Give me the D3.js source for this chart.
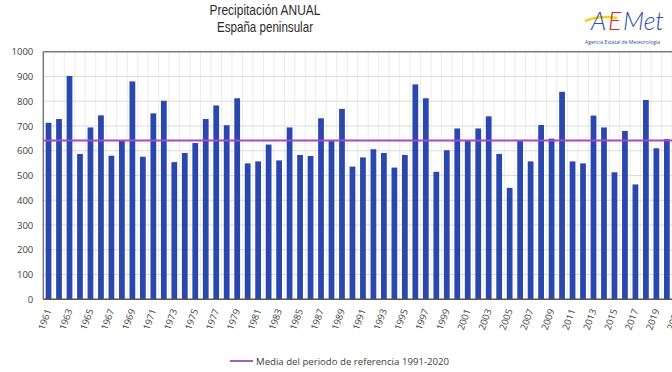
<!DOCTYPE html>
<html><head><meta charset="utf-8">
<script src="https://cdn.jsdelivr.net/npm/d3@7"></script>
<style>body{margin:0;background:#fff}svg{display:block}</style>
</head><body>
<script>
const years = d3.range(1961, 2022);
const precip = [713,728,902,587,694,743,580,643,880,576,
                751,802,554,591,631,728,783,703,812,549,
                557,625,561,694,583,579,731,639,769,536,
                573,606,591,532,583,868,812,515,602,690,
                639,690,739,587,450,639,557,704,649,838,
                557,549,742,694,513,680,464,805,610,647,
                null];
const meanRef = 641;
const yTicks = [0,100,200,300,400,500,600,700,800,900,1000];
const titleLines = ["Precipitación ANUAL", "España peninsular"];
const legendLabel = "Media del periodo de referencia 1991-2020";

const W = 672, H = 372;
const L = 43.3, T = 51.7, B = 299.3, step = 10.48;
const R = L + years.length * step;

const svg = d3.select("body").append("svg").attr("width", W).attr("height", H);

const x = d3.scaleBand().domain(years).range([L, R]).paddingInner(0.45).paddingOuter(0.225);
const y = d3.scaleLinear().domain([0, 1000]).range([B, T]);

// vertical gridlines
svg.append("g").selectAll("line").data(years.slice(1)).join("line")
  .attr("x1", d => x(d) - x.step()*0.225).attr("x2", d => x(d) - x.step()*0.225)
  .attr("y1", T).attr("y2", B).attr("stroke", "#ececec").attr("stroke-width", 1);

// horizontal gridlines
svg.append("g").selectAll("line").data(yTicks.slice(1)).join("line")
  .attr("x1", L).attr("x2", W).attr("y1", d => y(d)).attr("y2", d => y(d))
  .attr("stroke", d => d === 1000 ? "#7a7a7a" : "#dcdcdc").attr("stroke-width", d => d === 1000 ? 1.5 : 1);

// bars
svg.append("g").selectAll("rect").data(years.map((yr,i)=>({yr, v: precip[i]})).filter(d => d.v != null)).join("rect")
  .attr("x", d => x(d.yr)).attr("width", x.bandwidth())
  .attr("y", d => y(d.v)).attr("height", d => y(0) - y(d.v))
  .attr("fill", "#2a47ad");

// mean line
svg.append("line").attr("x1", L).attr("x2", W).attr("y1", y(meanRef)).attr("y2", y(meanRef))
  .attr("stroke", "#a24ad0").attr("stroke-width", 2);

// axes lines
svg.append("line").attr("x1", L).attr("x2", L).attr("y1", T).attr("y2", B).attr("stroke", "#7a7a7a").attr("stroke-width", 1.5);
svg.append("line").attr("x1", L).attr("x2", W).attr("y1", B).attr("y2", B).attr("stroke", "#555").attr("stroke-width", 1.5);

// y axis
const yAxis = d3.axisLeft(y).tickValues(yTicks).tickFormat(d3.format("d")).tickSize(0).tickPadding(10);
const yg = svg.append("g").attr("transform", `translate(${L},0)`).call(yAxis);
yg.select(".domain").remove();
yg.selectAll("text").attr("font-family", "Open Sans, sans-serif").attr("font-size", 9.5).attr("fill", "#404040");

// x axis labels
const xAxis = d3.axisBottom(x).tickValues(years.filter(d => (d - 1961) % 2 === 0)).tickSize(0).tickPadding(0);
const xg = svg.append("g").attr("transform", `translate(0,${B})`).call(xAxis);
xg.select(".domain").remove();
xg.selectAll("text")
  .attr("font-family", "Open Sans, sans-serif").attr("font-size", 9.5).attr("fill", "#404040")
  .attr("text-anchor", "end").attr("y", 0).attr("dy", "0.35em")
  .attr("transform", "translate(0,10) rotate(-70)");

// title
svg.append("g").selectAll("text").data(titleLines).join("text")
  .attr("x", 265).attr("y", (d,i) => 15 + i*17)
  .attr("text-anchor", "middle").attr("font-family", "Liberation Sans, Arial, sans-serif")
  .attr("font-size", 14.5).attr("fill", "#2a2a2a")
  .attr("textLength", (d,i) => i === 0 ? 111 : 96).attr("lengthAdjust", "spacingAndGlyphs")
  .text(d => d);

// legend
svg.append("line").attr("x1", 230).attr("x2", 253).attr("y1", 361).attr("y2", 361)
  .attr("stroke", "#9a62c8").attr("stroke-width", 2);
svg.append("text").attr("x", 256).attr("y", 364.5).attr("font-family", "Open Sans, sans-serif")
  .attr("font-size", 9).attr("fill", "#404040")
  .attr("textLength", 193).attr("lengthAdjust", "spacingAndGlyphs").text(legendLabel);

// logo
const logo = svg.append("g");
logo.append("path").attr("d", "M585,21 C595,17 605,16 617,18").attr("stroke", "#f2d21b").attr("stroke-width", 2.5).attr("fill", "none");
const logoParts = [{t: "A", x: 591, c: "#2b4ea8"}, {t: "E", x: 608, c: "#d62a2a"}, {t: "Met", x: 623, c: "#2b4ea8"}];
logo.selectAll("text.big").data(logoParts).join("text").attr("class", "big")
  .attr("x", d => d.x).attr("y", 30).attr("font-family", "Lato, sans-serif")
  .attr("font-size", 25).attr("font-style", "italic").attr("font-weight", 300)
  .attr("fill", d => d.c).text(d => d.t);
logo.append("text").attr("x", 585).attr("y", 44).attr("font-family", "Open Sans, sans-serif")
  .attr("font-size", 4.5).attr("fill", "#2b4ea8").attr("textLength", 75).attr("lengthAdjust", "spacingAndGlyphs")
  .text("Agencia Estatal de Meteorología");
</script>
</body></html>
